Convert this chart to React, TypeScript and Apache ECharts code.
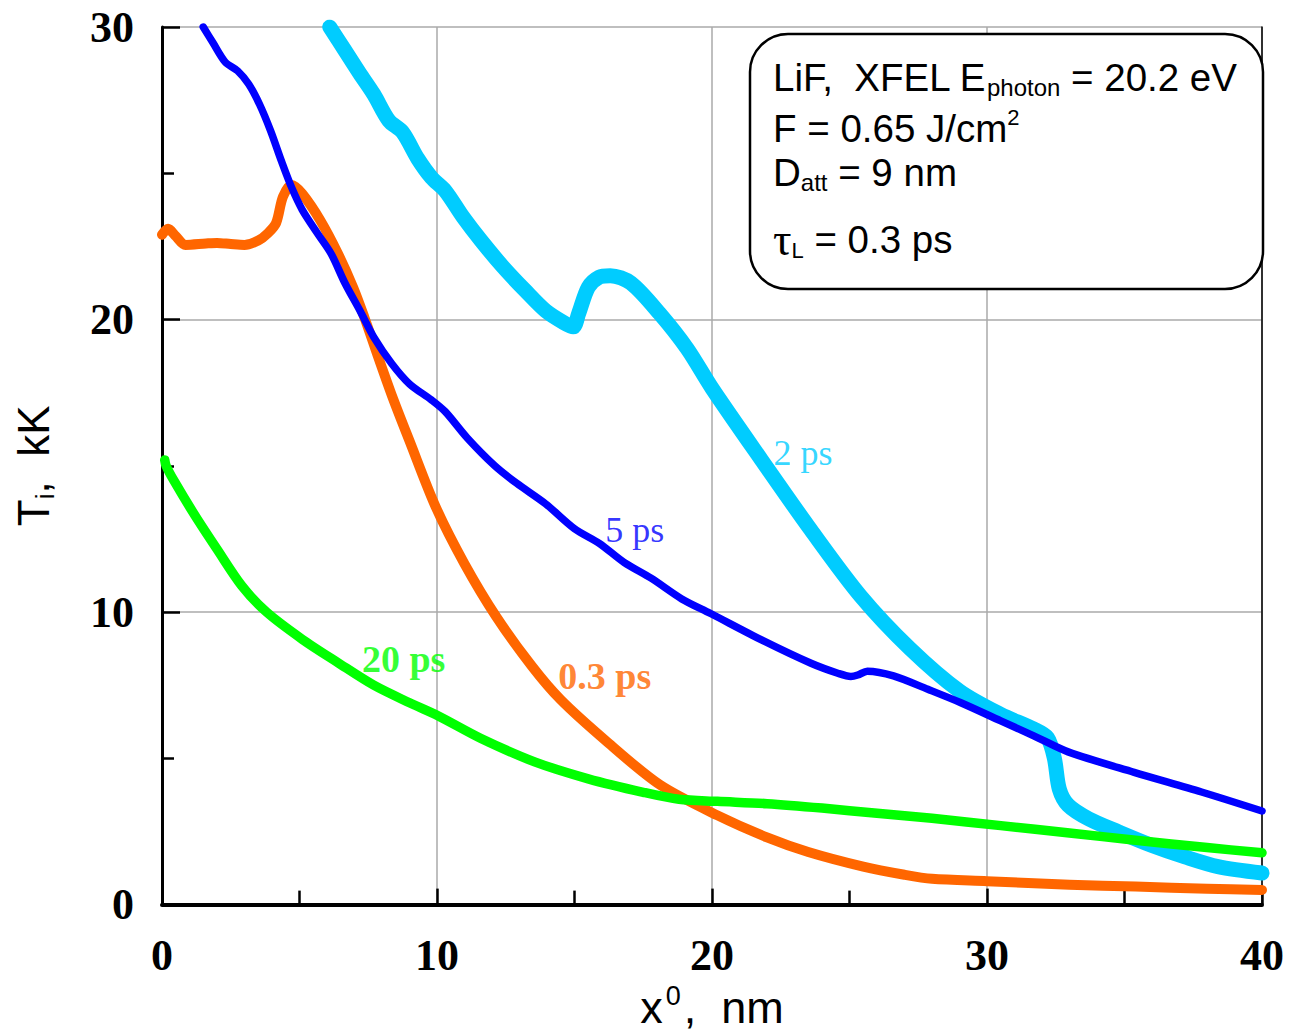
import React, { useEffect, useRef } from "react";
import * as echarts from "echarts";

// ---- data (x in nm, T in kK) ----
const xTickValues = [0, 10, 20, 30, 40];
const yTickValues = [0, 10, 20, 30];

const curve03ps: [number, number][] = [
  [0.0, 22.9], [0.22, 23.1], [0.5, 22.85], [0.85, 22.55], [1.6, 22.6], [2.0, 22.62],
  [2.5, 22.58], [3.0, 22.55], [3.5, 22.7], [3.85, 22.95], [4.15, 23.3], [4.4, 24.2],
  [4.72, 24.6], [5.1, 24.3], [5.75, 23.4], [6.4, 22.25], [6.95, 21.1], [7.35, 20.1],
  [7.85, 18.75], [8.4, 17.3], [9.0, 15.85], [9.95, 13.6], [11.0, 11.65], [12.15, 9.85],
  [13.45, 8.15], [14.5, 7.0], [16.2, 5.55], [18.1, 4.1], [20.2, 3.05], [22.0, 2.3],
  [23.5, 1.8], [25.5, 1.3], [27.0, 1.02], [28.0, 0.88], [30.0, 0.8], [33.0, 0.68],
  [35.4, 0.62], [38.0, 0.54], [40.0, 0.5],
];

const curve2ps: [number, number][] = [
  [6.1, 30.0], [6.65, 29.2], [7.2, 28.4], [7.7, 27.7], [8.25, 26.8], [8.75, 26.4],
  [9.3, 25.5], [9.8, 24.85], [10.3, 24.4], [10.95, 23.5], [11.6, 22.7], [12.4, 21.8],
  [13.2, 21.0], [13.95, 20.3], [14.6, 19.9], [14.95, 19.75], [15.15, 20.2], [15.5, 21.1],
  [15.9, 21.45], [16.3, 21.5], [17.05, 21.25], [18.1, 20.2], [19.1, 19.0], [20.0, 17.65],
  [21.8, 15.2], [23.6, 12.8], [25.4, 10.55], [27.2, 8.75], [29.0, 7.3], [30.5, 6.5],
  [31.7, 6.0], [32.2, 5.7], [32.45, 5.0], [32.63, 3.95], [32.95, 3.4], [33.7, 2.93],
  [34.8, 2.48], [36.0, 2.02], [37.2, 1.63], [38.4, 1.3], [40.0, 1.08],
];

const curve5ps: [number, number][] = [
  [1.5, 30.0], [1.86, 29.45], [2.3, 28.8], [2.75, 28.5], [3.15, 28.05], [3.55, 27.35],
  [3.95, 26.45], [4.35, 25.4], [4.72, 24.5], [5.1, 23.75], [5.65, 22.95], [6.15, 22.25],
  [6.65, 21.25], [7.2, 20.3], [7.7, 19.4], [8.35, 18.5], [9.0, 17.8], [9.8, 17.25],
  [10.3, 16.85], [11.1, 15.95], [12.1, 15.0], [12.9, 14.4], [13.95, 13.7], [15.0, 12.85],
  [15.9, 12.35], [16.8, 11.7], [17.8, 11.15], [18.9, 10.45], [19.95, 9.95], [21.8, 9.05],
  [23.6, 8.25], [24.6, 7.9], [25.05, 7.8], [25.3, 7.85], [25.65, 7.98], [26.6, 7.82],
  [27.85, 7.36], [29.05, 6.9], [30.5, 6.28], [31.7, 5.77], [32.95, 5.22], [35.35, 4.52],
  [37.8, 3.85], [40.0, 3.2],
];

const curve20ps: [number, number][] = [
  [0.1, 15.2], [0.15, 15.0], [0.43, 14.5], [1.2, 13.3], [2.0, 12.15], [2.9, 10.9],
  [3.8, 10.0], [5.1, 9.07], [6.4, 8.27], [7.7, 7.5], [9.0, 6.9], [10.05, 6.45],
  [11.6, 5.68], [13.55, 4.88], [15.5, 4.3], [17.5, 3.84], [18.8, 3.6], [20.2, 3.53],
  [22.0, 3.45], [24.0, 3.3], [26.0, 3.12], [28.0, 2.95], [30.5, 2.7], [33.0, 2.45],
  [35.4, 2.2], [38.0, 1.95], [40.0, 1.77],
];

const seriesNames = ["0.3 ps", "2 ps", "5 ps", "20 ps"];

// curve labels (text, anchor in data units)
const curveLabelTexts = ["2 ps", "5 ps", "20 ps", "0.3 ps"];
const curveLabelX = [22.24, 16.12, 7.27, 14.41];
const curveLabelY = [15.44, 12.79, 8.39, 7.81];

const COLORS = {
  orange: "#FF6600",
  cyan: "#00CCFF",
  blue: "#0000FF",
  green: "#00FF00",
};

const SANS = "'Liberation Sans', Arial, Helvetica, sans-serif";
const SERIF = "'Liberation Serif', 'Times New Roman', Times, serif";

export default function App() {
  const ref = useRef<HTMLDivElement>(null);

  useEffect(() => {
    if (!ref.current) return;
    const chart = echarts.init(ref.current, null, { renderer: "svg" });

    const lineSeries = (name: string, data: [number, number][], color: string, width: number, z: number) => ({
      name,
      type: "line",
      data,
      showSymbol: false,
      symbol: "none",
      smooth: 0.3,
      z,
      lineStyle: { color, width, cap: "round", join: "round" },
      silent: true,
    });

    const labelColors = [COLORS.cyan, COLORS.blue, COLORS.green, COLORS.orange];
    const labelBold = [false, false, true, true];

    const option: any = {
      animation: false,
      backgroundColor: "#ffffff",
      grid: { left: 162, top: 27, width: 1100, height: 880, containLabel: false },
      xAxis: {
        type: "value",
        min: 0,
        max: 40,
        interval: 10,
        axisLine: { show: true, onZero: false, lineStyle: { color: "#000", width: 4 } },
        axisTick: { show: true, inside: true, length: 16, lineStyle: { color: "#000", width: 2.5 } },
        minorTick: { show: true, splitNumber: 2, length: 14, lineStyle: { color: "#000", width: 2.5 } },
        axisLabel: {
          color: "#000",
          fontFamily: SERIF,
          fontWeight: "bold",
          fontSize: 44,
          margin: 29,
          formatter: (v: number) => (xTickValues.includes(v) ? String(v) : ""),
        },
        splitLine: { show: true, lineStyle: { color: "#aaaaaa", width: 1.5 } },
        name: "{a|x}{s|0}{a|,  nm}",
        nameLocation: "middle",
        nameGap: 77,
        nameTextStyle: {
          color: "#000",
          rich: {
            a: { fontFamily: SANS, fontSize: 45, lineHeight: 50, color: "#000", verticalAlign: "middle" },
            s: { fontFamily: SANS, fontSize: 27, lineHeight: 30, color: "#000", verticalAlign: "top", padding: [0, 3, 0, 3] },
          },
        },
      },
      yAxis: [
        {
          type: "value",
          min: 0,
          max: 30,
          interval: 10,
          axisLine: { show: true, onZero: false, lineStyle: { color: "#000", width: 3 } },
          axisTick: { show: true, inside: true, length: 18, lineStyle: { color: "#000", width: 2.5 } },
          minorTick: { show: true, splitNumber: 2, length: 12, lineStyle: { color: "#000", width: 2.5 } },
          axisLabel: {
            color: "#000",
            fontFamily: SERIF,
            fontWeight: "bold",
            fontSize: 44,
            margin: 28,
            formatter: (v: number) => (yTickValues.includes(v) ? String(v) : ""),
          },
          splitLine: { show: true, lineStyle: { color: "#aaaaaa", width: 1.5 } },
          name: "{a|T}{b|i}{a|,  kK}",
          nameLocation: "middle",
          nameGap: 104,
          nameTextStyle: {
            color: "#000",
            rich: {
              a: { fontFamily: SANS, fontSize: 44, lineHeight: 50, color: "#000", verticalAlign: "middle" },
              b: { fontFamily: SANS, fontSize: 26, lineHeight: 16, color: "#000", verticalAlign: "bottom" },
            },
          },
        },
        {
          type: "value",
          position: "right",
          min: 0,
          max: 30,
          interval: 10,
          axisLine: { show: true, onZero: false, lineStyle: { color: "#000", width: 1.5 } },
          axisTick: { show: false },
          axisLabel: { show: false },
          splitLine: { show: false },
        },
      ],
      series: [
        lineSeries(seriesNames[0], curve03ps, COLORS.orange, 10, 2),
        lineSeries(seriesNames[1], curve2ps, COLORS.cyan, 15, 3),
        lineSeries(seriesNames[2], curve5ps, COLORS.blue, 7.5, 4),
        lineSeries(seriesNames[3], curve20ps, COLORS.green, 9.5, 5),
        {
          type: "scatter",
          symbolSize: 0,
          silent: true,
          z: 10,
          data: curveLabelTexts.map((t, i) => ({
            value: [curveLabelX[i], curveLabelY[i]],
            name: t,
            label: {
              show: true,
              position: "right",
              distance: 0,
              formatter: t,
              color: labelColors[i],
              fontFamily: SERIF,
              fontSize: labelBold[i] ? 38 : 36,
              fontWeight: labelBold[i] ? "bold" : "normal",
            },
          })),
        },
      ],
      graphic: [
        {
          type: "rect",
          z: 100,
          shape: { x: 750, y: 34, width: 513, height: 255, r: 38 },
          style: { fill: "#ffffff", stroke: "#000", lineWidth: 2.5 },
        },
        {
          type: "text",
          z: 101,
          x: 773,
          y: 77,
          style: {
            text: "{a|LiF,  XFEL E}{b|photon}{a| = 20.2 eV}",
            verticalAlign: "middle",
            rich: {
              a: { fontFamily: SANS, fontSize: 38.5, lineHeight: 44, fill: "#000", verticalAlign: "middle" },
              b: { fontFamily: SANS, fontSize: 24, lineHeight: 14, fill: "#000", verticalAlign: "bottom" },
            },
          },
        },
        {
          type: "text",
          z: 101,
          x: 773,
          y: 128,
          style: {
            text: "{a|F = 0.65 J/cm}{s|2}",
            verticalAlign: "middle",
            rich: {
              a: { fontFamily: SANS, fontSize: 38.5, lineHeight: 44, fill: "#000", verticalAlign: "middle" },
              s: { fontFamily: SANS, fontSize: 22, lineHeight: 34, fill: "#000", verticalAlign: "top" },
            },
          },
        },
        {
          type: "text",
          z: 101,
          x: 773,
          y: 172,
          style: {
            text: "{a|D}{b|att}{a| = 9 nm}",
            verticalAlign: "middle",
            rich: {
              a: { fontFamily: SANS, fontSize: 38.5, lineHeight: 44, fill: "#000", verticalAlign: "middle" },
              b: { fontFamily: SANS, fontSize: 24, lineHeight: 14, fill: "#000", verticalAlign: "bottom" },
            },
          },
        },
        {
          type: "text",
          z: 101,
          x: 773,
          y: 239,
          style: {
            text: "{t|τ}{b|L}{a| = 0.3 ps}",
            verticalAlign: "middle",
            rich: {
              t: { fontFamily: SERIF, fontSize: 46, lineHeight: 44, fill: "#000", verticalAlign: "middle" },
              a: { fontFamily: SANS, fontSize: 38.5, lineHeight: 44, fill: "#000", verticalAlign: "middle" },
              b: { fontFamily: SANS, fontSize: 22, lineHeight: 14, fill: "#000", verticalAlign: "bottom" },
            },
          },
        },
      ],
    };

    chart.setOption(option);
    return () => chart.dispose();
  }, []);

  return (
    <div
      ref={ref}
      style={{ position: "fixed", left: 0, top: 0, width: 1289, height: 1035, background: "#fff" }}
    />
  );
}
